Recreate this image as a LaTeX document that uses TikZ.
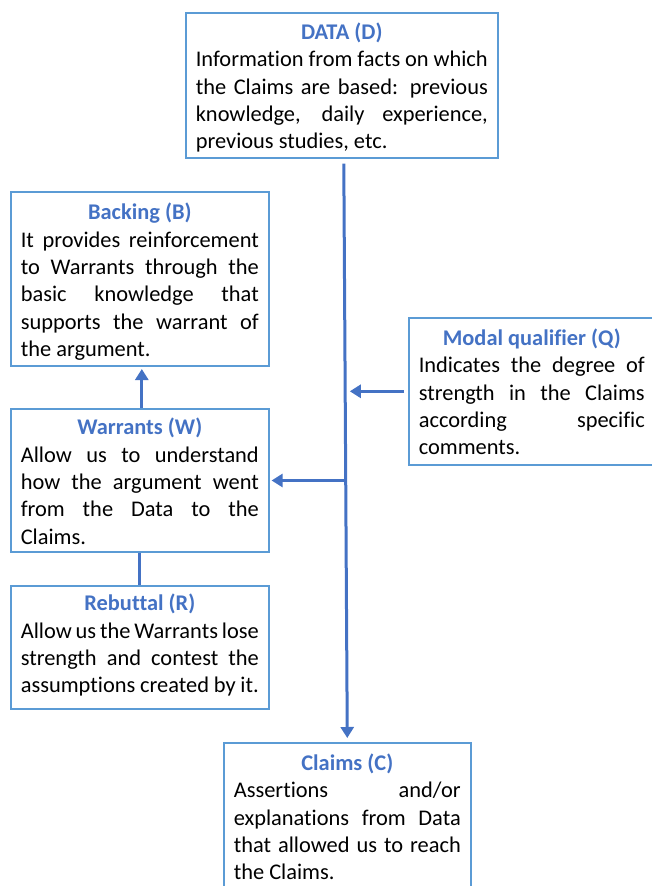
\documentclass[tikz,border=0pt]{standalone}
\usepackage{fontspec}
\setmainfont[Ligatures=NoCommon]{Carlito}
\usetikzlibrary{arrows.meta, positioning}
\usepackage{xcolor}
\definecolor{titleblue}{HTML}{4472C4}
\definecolor{boxblue}{HTML}{5B9BD5}
\setlength{\parindent}{0pt}
\setlength{\parskip}{0pt}
\hyphenpenalty=10000
\tolerance=10000
\newcommand{\boxtitle}[2][26pt]{{\centering\bfseries\color{titleblue}\rule{0pt}{#1}#2\par}}

\begin{document}
\begin{tikzpicture}[
		x=1pt, y=-1pt,
		box/.style={draw=boxblue, line width=1.6pt, rectangle, anchor=north west, align=justify, inner xsep=10pt, inner ysep=0pt, font=\fontsize{22.4}{27.3}\selectfont},
		arrow/.style={-{Triangle[width=13pt,length=11pt]}, line width=3pt, draw=titleblue},
		link/.style={line width=3pt, draw=titleblue}
		]
		\useasboundingbox (0,0) rectangle (652,886);
		
		% Nodes
		\node[box, text width=292pt, minimum height=145pt] (data) at (185,12) {\boxtitle{DATA (D)}Information from facts on which the Claims are based: previous knowledge, daily experience, previous studies, etc.\strut};
		\node[box, text width=238pt, minimum height=142pt] (warrants) at (10,408) {\boxtitle{Warrants (W)}Allow us to understand how the argument went from the Data to the Claims.\strut};
		\node[box, text width=238pt, minimum height=174pt, above=41pt of warrants] (backing) {\boxtitle{Backing (B)}It provides reinforcement to Warrants through the basic knowledge that supports the warrant of the argument.\strut};
		\node[box, text width=238pt, minimum height=123pt, below=32pt of warrants] (rebuttal) {\boxtitle[17pt]{Rebuttal (R)}Allow us the Warrants lose strength and contest the assumptions created by it.\strut};
		\node[box, text width=226pt, minimum height=147pt] (modal) at (408,317) {\boxtitle{Modal qualifier (Q)}Indicates the degree of\linebreak strength in the Claims\linebreak according specific\linebreak comments.\strut};
		\node[box, text width=227pt, minimum height=147pt] (claims) at (223,742) {\boxtitle{Claims (C)}Assertions and/or explanations from Data that allowed us to reach the Claims.\strut};
		
		% Arrows
		\coordinate (trunk) at ([xshift=2pt, yshift=-5pt]data.south);
		\draw[arrow, shorten >=4pt] (trunk) -- (claims.north);
		\draw[arrow, shorten <=4pt] (modal.west) -- ([xshift=6pt]modal.west -| trunk);
		\draw[arrow, shorten >=2pt] ([xshift=2pt]warrants.east -| trunk) -- (warrants.east);
		\draw[arrow, shorten >=2pt] ([xshift=2pt]warrants.north) -- ([xshift=2pt]backing.south);
		\draw[link] (warrants.south) -- (rebuttal.north);
	\end{tikzpicture}
\end{document}
